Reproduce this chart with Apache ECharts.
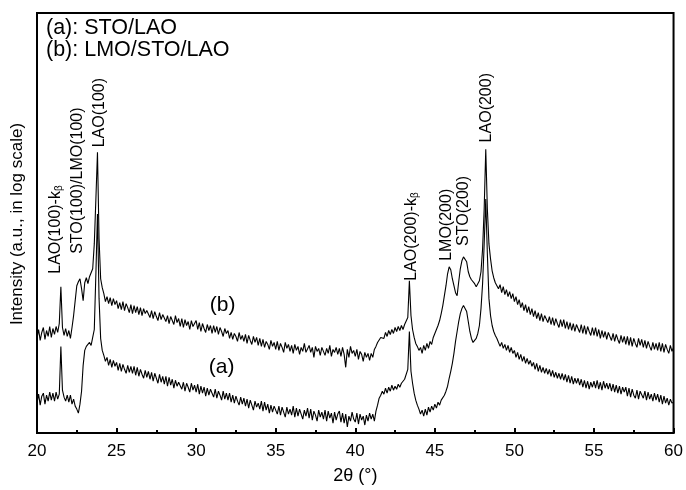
<!DOCTYPE html>
<html>
<head>
<meta charset="utf-8">
<script src="https://cdn.jsdelivr.net/npm/echarts@6/dist/echarts.min.js"></script>
<style>
html, body { margin: 0; padding: 0; background: #fff; }
#main { width: 686px; height: 490px; }
</style>
</head>
<body>
<div id="main"></div>
<script>
// XRD scan, 2theta from 20.0 to 60.0 deg, one value every 0.1 deg (intensity, log, a.u.)
const scanStart = 20;
const scanStep = 0.1;

// (a) STO/LAO
const curveA = [
  30,39,28,37,40,29,38,32,41,33,
  40,32,41,34,39,87,43,36,32,38,
  31,38,29,34,27,24,20,29,42,68,
  83,87,85,91,88,96,104,160,220,135,
  95,83,78,72,76,68,74,66,73,67,
  71,63,70,62,69,64,60,68,61,67,
  60,67,58,66,57,64,59,55,63,56,
  62,54,61,52,60,55,50,59,51,57,
  49,57,47,56,48,54,45,53,47,51,
  52,44,51,42,50,46,41,50,43,48,
  41,49,39,47,40,46,37,45,38,44,
  45,36,44,35,42,38,33,42,34,40,
  33,40,31,38,30,37,32,28,36,29,
  35,27,34,25,33,28,23,32,26,30,
  24,32,22,31,23,29,20,28,21,27,
  29,19,27,18,26,21,16,26,19,24,
  18,27,16,25,17,24,19,14,23,17,
  25,15,24,13,22,18,12,23,16,21,
  14,23,12,22,15,20,10,21,13,19,
  22,11,20,10,19,6,17,12,21,14,
  11,20,9,19,13,17,8,18,12,20,
  14,19,12,22,28,35,38,42,39,45,
  40,46,42,48,43,47,44,49,46,50,
  48,54,56,64,102,62,50,40,33,28,
  24,19,23,17,24,18,26,21,27,23,
  29,25,31,28,33,35,38,42,47,55,
  62,70,80,92,102,112,120,125,128,127,
  122,112,102,95,91,90,95,100,108,125,
  150,190,235,180,135,118,108,102,98,95,
  93,87,91,85,89,83,88,81,86,80,
  83,76,81,74,79,72,77,70,75,69,
  73,67,71,64,70,62,68,61,66,60,
  65,59,64,57,63,56,61,55,60,54,
  60,53,59,51,58,50,57,49,55,50,
  55,48,54,46,53,45,52,44,51,46,
  52,45,53,44,51,43,52,45,50,44,
  50,42,49,41,48,40,47,39,46,41,
  46,37,45,36,44,38,35,43,34,42,
  43,35,42,33,41,34,39,32,40,33,
  39,31,38,29,37,30,35,28,34,30,
  31
];

// (b) LMO/STO/LAO
const curveB = [
  95,104,93,101,106,94,103,97,107,96,
  105,99,107,101,110,147,106,98,105,97,
  103,95,106,118,133,148,152,155,145,133,
  151,156,150,157,155,165,190,235,282,195,
  155,146,140,132,137,130,136,128,135,129,
  133,125,131,124,132,123,130,126,121,129,
  120,128,121,127,119,126,118,125,120,123,
  124,116,123,115,122,117,113,121,114,119,
  120,112,118,110,117,113,109,118,111,115,
  107,115,106,114,108,112,104,113,107,110,
  113,104,111,102,110,105,101,109,103,108,
  100,108,101,107,99,106,102,97,105,100,
  103,95,101,94,100,97,92,101,94,98,
  92,99,90,98,93,89,97,91,96,88,
  95,87,94,86,92,89,84,93,87,91,
  84,92,83,90,86,81,91,85,89,82,
  88,80,89,83,87,79,86,82,90,81,
  79,88,81,86,76,87,82,85,78,86,
  87,78,85,80,88,77,84,81,86,79,
  85,77,86,79,66,84,76,87,80,83,
  77,84,74,82,79,72,81,76,80,73,
  80,76,84,87,91,93,96,98,95,101,
  97,103,99,104,100,106,102,107,103,108,
  104,109,111,116,153,118,104,96,90,87,
  83,86,80,88,83,90,85,92,89,96,
  100,104,108,113,120,128,138,148,160,167,
  164,155,148,141,138,152,165,173,177,178,
  172,162,157,154,152,150,147,148,153,162,
  185,225,285,225,190,175,163,156,151,148,
  145,149,141,147,139,144,137,142,135,140,
  132,137,129,134,126,131,123,129,121,127,
  119,125,117,123,115,121,113,120,112,118,
  118,111,117,109,116,108,115,110,106,114,
  107,114,105,112,104,111,103,110,102,109,
  110,101,109,100,108,99,107,102,98,106,
  98,106,97,104,95,103,96,102,94,101,
  102,93,100,92,99,94,90,98,91,97,
  89,97,88,96,87,95,90,86,95,88,
  94,86,93,85,92,87,83,91,84,90,
  83,91,82,90,81,89,84,80,88,82,
  86
];

const xMin = 20, xMax = 60, xInterval = 5;
const legendLines = ['(a): STO/LAO', '(b): LMO/STO/LAO'];
const curveTags = [
  { text: '(b)', at: [31.66, 128] },
  { text: '(a)', at: [31.6, 66] }
];
// peak labels, anchored at the lower end of the rotated text
const peakLabels = [
  { text: 'LAO(100)-k{s|β}', at: [21.19, 160] },
  { text: 'STO(100)/LMO(100)', at: [22.57, 180] },
  { text: 'LAO(100)', at: [23.95, 287] },
  { text: 'LAO(200)-k{s|β}', at: [43.57, 153] },
  { text: 'LMO(200)', at: [45.71, 173] },
  { text: 'STO(200)', at: [46.83, 188] },
  { text: 'LAO(200)', at: [48.28, 292] }
];

const FONT = '"Liberation Sans", Arial, sans-serif';

function toPairs(arr) {
  return arr.map((v, i) => [+(scanStart + i * scanStep).toFixed(1), v]);
}

const chart = echarts.init(document.getElementById('main'));
chart.setOption({
  animation: false,
  backgroundColor: '#fff',
  grid: { left: 37, right: 11, top: 13, bottom: 55, show: true, borderColor: '#000', borderWidth: 2 },
  xAxis: {
    type: 'value', min: xMin, max: xMax, interval: xInterval,
    axisLine: { lineStyle: { color: '#000', width: 2 } },
    axisTick: { inside: true, length: 5, lineStyle: { color: '#000', width: 2 } },
    minorTick: { show: true, splitNumber: 2, length: 3, lineStyle: { color: '#000', width: 2 } },
    splitLine: { show: false },
    axisLabel: { color: '#000', fontSize: 17, fontFamily: FONT, margin: 10 },
    name: '2θ (°)', nameLocation: 'middle', nameGap: 34,
    nameTextStyle: { color: '#000', fontSize: 18, fontFamily: FONT }
  },
  yAxis: {
    type: 'value', min: 0, max: 422,
    axisLine: { show: true, lineStyle: { color: '#000', width: 2 } },
    axisTick: { show: false }, axisLabel: { show: false }, splitLine: { show: false }
  },
  series: [
    { name: 'a', type: 'line', data: toPairs(curveA), showSymbol: false, lineStyle: { color: '#000', width: 1.1 } },
    { name: 'b', type: 'line', data: toPairs(curveB), showSymbol: false, lineStyle: { color: '#000', width: 1.1 } }
  ]
});

const graphics = [];
graphics.push({
  type: 'text', x: 17, y: 224, rotation: Math.PI / 2,
  style: { text: 'Intensity (a.u., in log scale)', font: '17px ' + FONT, fill: '#000', textAlign: 'center', textVerticalAlign: 'middle' }
});
legendLines.forEach((t, i) => {
  graphics.push({
    type: 'text', x: 46, y: 28 + i * 22,
    style: { text: t, font: '21.5px ' + FONT, fill: '#000', textAlign: 'left', textVerticalAlign: 'middle' }
  });
});
curveTags.forEach(c => {
  const p = chart.convertToPixel({ gridIndex: 0 }, c.at);
  graphics.push({
    type: 'text', x: p[0], y: p[1],
    style: { text: c.text, font: '21px ' + FONT, fill: '#000', textAlign: 'center', textVerticalAlign: 'middle' }
  });
});
peakLabels.forEach(l => {
  const p = chart.convertToPixel({ gridIndex: 0 }, l.at);
  graphics.push({
    type: 'text', x: p[0], y: p[1], rotation: Math.PI / 2,
    style: {
      text: l.text, font: '16px ' + FONT, fill: '#000', textAlign: 'left', textVerticalAlign: 'middle',
      rich: { s: { fontSize: 10, fontFamily: FONT, verticalAlign: 'bottom', lineHeight: 10, padding: [9, 0, 0, 0] } }
    }
  });
});
chart.setOption({ graphic: graphics });
</script>
</body>
</html>
